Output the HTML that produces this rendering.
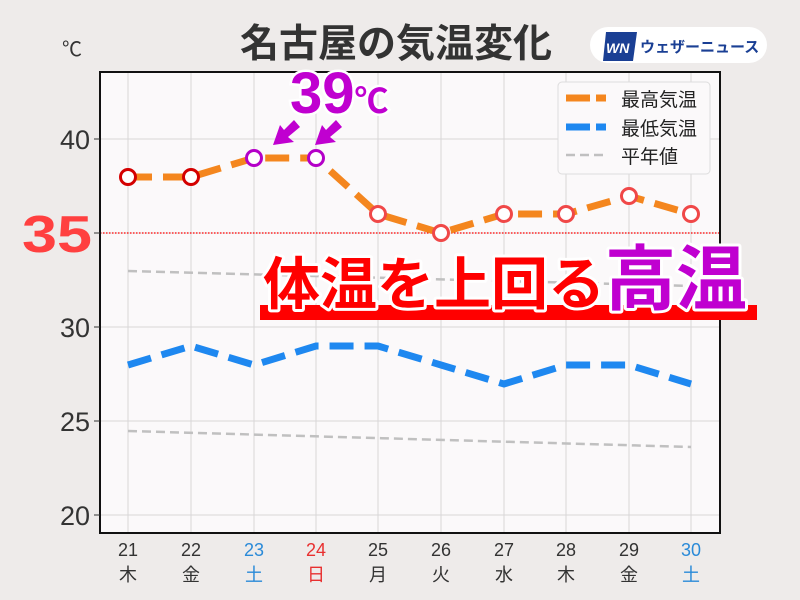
<!DOCTYPE html><html><head><meta charset="utf-8"><style>body{margin:0;background:#eeebea}svg{display:block}text{font-family:"Liberation Sans","Noto Sans CJK JP",sans-serif}</style></head><body>
<svg width="800" height="600" xmlns="http://www.w3.org/2000/svg">
<rect width="800" height="600" fill="#eeebea"/>
<rect x="100" y="72" width="620" height="461" fill="#fbf9fa"/>
<g stroke="#d8d6d7" stroke-width="1">
<line x1="128" y1="72" x2="128" y2="533"/><line x1="191" y1="72" x2="191" y2="533"/><line x1="254" y1="72" x2="254" y2="533"/><line x1="316" y1="72" x2="316" y2="533"/><line x1="378" y1="72" x2="378" y2="533"/><line x1="441" y1="72" x2="441" y2="533"/><line x1="504" y1="72" x2="504" y2="533"/><line x1="566" y1="72" x2="566" y2="533"/><line x1="629" y1="72" x2="629" y2="533"/><line x1="691" y1="72" x2="691" y2="533"/>
<line x1="100" y1="139" x2="720" y2="139"/><line x1="100" y1="233" x2="720" y2="233"/><line x1="100" y1="327" x2="720" y2="327"/><line x1="100" y1="421" x2="720" y2="421"/><line x1="100" y1="515" x2="720" y2="515"/>
</g>
<line x1="100" y1="233" x2="720" y2="233" stroke="#f00" stroke-width="1.2" stroke-dasharray="1.5,1.5"/>
<polyline points="128,271 691,286" fill="none" stroke="#c0c0c0" stroke-width="2.5" stroke-dasharray="9,5"/>
<polyline points="128,431 691,447" fill="none" stroke="#c0c0c0" stroke-width="2.5" stroke-dasharray="9,5"/>
<polyline points="128,365 191,346 254,365 316,346 378,346 441,365 504,384 566,365 629,365 691,384" fill="none" stroke="#1e88f0" stroke-width="7" stroke-dasharray="24,11"/>
<polyline points="128,177 191,177 254,158 316,158 378,214 441,233 504,214 566,214 629,196 691,214" fill="none" stroke="#f4861e" stroke-width="7" stroke-dasharray="24,11"/>
<g fill="#fff" stroke-width="3">
<circle cx="128" cy="177" r="7.5" stroke="#d40000"/><circle cx="191" cy="177" r="7.5" stroke="#d40000"/>
<circle cx="254" cy="158" r="7.5" stroke="#b400c8"/><circle cx="316" cy="158" r="7.5" stroke="#b400c8"/>
<circle cx="378" cy="214" r="7.5" stroke="#f04848"/><circle cx="441" cy="233" r="7.5" stroke="#f04848"/><circle cx="504" cy="214" r="7.5" stroke="#f04848"/><circle cx="566" cy="214" r="7.5" stroke="#f04848"/><circle cx="629" cy="196" r="7.5" stroke="#f04848"/><circle cx="691" cy="214" r="7.5" stroke="#f04848"/>
</g>
<rect x="100" y="72" width="620" height="461" fill="none" stroke="#111" stroke-width="2"/>
<g stroke="#333" stroke-width="1">
<line x1="94" y1="139" x2="100" y2="139"/><line x1="94" y1="233" x2="100" y2="233"/><line x1="94" y1="327" x2="100" y2="327"/><line x1="94" y1="421" x2="100" y2="421"/><line x1="94" y1="515" x2="100" y2="515"/>
</g>
<g font-size="27" fill="#333" text-anchor="end">
<text x="90" y="149">40</text><text x="90" y="337">30</text><text x="90" y="431">25</text><text x="90" y="525">20</text>
</g>
<text x="22" y="252" font-size="52" font-weight="bold" fill="#ff4040" textLength="70" lengthAdjust="spacingAndGlyphs">35</text>
<text x="62" y="56" font-size="20" fill="#333">℃</text>
<g font-size="18" fill="#333" text-anchor="middle">
<text x="128" y="556">21</text><text x="191" y="556">22</text><text x="254" y="556" fill="#2a8ad8">23</text><text x="316" y="556" fill="#e83030">24</text><text x="378" y="556">25</text><text x="441" y="556">26</text><text x="504" y="556">27</text><text x="566" y="556">28</text><text x="629" y="556">29</text><text x="691" y="556" fill="#2a8ad8">30</text>
<text x="128" y="581">木</text><text x="191" y="581">金</text><text x="254" y="581" fill="#2a8ad8">土</text><text x="316" y="581" fill="#e83030">日</text><text x="378" y="581">月</text><text x="441" y="581">火</text><text x="504" y="581">水</text><text x="566" y="581">木</text><text x="629" y="581">金</text><text x="691" y="581" fill="#2a8ad8">土</text>
</g>
<text x="240" y="57" font-size="39" font-weight="bold" fill="#333">名古屋の気温変化</text>
<rect x="590" y="27" width="177" height="36" rx="18" fill="#fff"/>
<polygon points="606,32 637,32 633,61 603,61" fill="#1a3f94"/>
<text x="606" y="53" font-size="14" font-weight="bold" font-style="italic" fill="#fff">WN</text>
<text x="640" y="52" font-size="15" font-weight="bold" fill="#1a3f94">ウェザーニュース</text>
<rect x="558" y="82" width="152" height="92" rx="4" fill="#fbf9fa" stroke="#ddd"/>
<line x1="566" y1="98" x2="606" y2="98" stroke="#f4861e" stroke-width="7" stroke-dasharray="24,6"/>
<line x1="566" y1="127" x2="606" y2="127" stroke="#1e88f0" stroke-width="7" stroke-dasharray="24,6"/>
<line x1="566" y1="155" x2="606" y2="155" stroke="#c0c0c0" stroke-width="2.5" stroke-dasharray="9,5"/>
<g font-size="19" fill="#222"><text x="621" y="106">最高気温</text><text x="621" y="135">最低気温</text><text x="621" y="163">平年値</text></g>
<text x="290" y="113" font-size="58" font-weight="bold" fill="#c000d0" stroke="#fff" stroke-width="5" paint-order="stroke">39<tspan font-size="34">℃</tspan></text>
<g fill="#c000d0"><polygon points="294,120 300,127 288,137 294,142 273,145 280,125 284,130"/><polygon points="336,120 342,127 330,137 336,142 315,145 322,125 326,130"/></g>
<rect x="260" y="305" width="497" height="15" fill="#ff0000"/>
<text x="263" y="304" font-size="57" font-weight="bold" fill="#ff0000" stroke="#fff" stroke-width="6" paint-order="stroke" stroke-linejoin="round">体温を上回る<tspan fill="#c000d0" font-size="71">高温</tspan></text>
</svg>
</body></html>
